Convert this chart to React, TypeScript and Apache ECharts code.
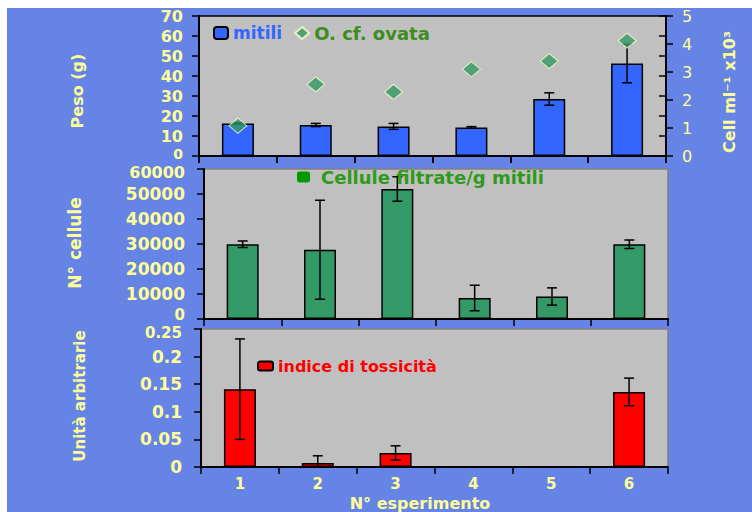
import React, { useEffect, useRef } from "react";
import * as echarts from "echarts";

const categories = ["1", "2", "3", "4", "5", "6"];
const pesoMitili = [16.3, 15.5, 14.8, 14.3, 28.5, 46.2];
const pesoErr = [0.4, 0.8, 1.5, 0.4, 3.1, 9.6];
const ovata = [1.08, 2.56, 2.29, 3.1, 3.39, 4.12];
const celluleFiltrate = [29900, 27700, 52000, 8400, 9000, 29900];
const celluleErr = [1300, 19800, 4900, 5100, 3450, 1700];
const tossicita = [0.141, 0.0073, 0.0254, 0, 0, 0.136];
const tossicitaErr = [0.091, 0.013, 0.013, 0, 0, 0.025];

const pesoAxis = { min: 0, max: 70, interval: 10 };
const cellAxis = { min: 0, max: 5, interval: 1 };
const celluleAxis = { min: 0, max: 60000, interval: 10000 };
const tossAxis = { min: 0, max: 0.25, interval: 0.05 };

const OX = 7;
const OY = 8;
const X = (v: number) => v - OX;
const Y = (v: number) => v - OY;

const YELLOW = "#FFFF99";
const FONT = "DejaVu Sans";

// labels at a panel's edge are nudged away from the neighbouring panel's labels
function edgeFmt(min: number, max: number, lowUp: boolean, highDown: boolean) {
  return (v: number) => {
    if (lowUp && v === min) return `{lo|${v}}`;
    if (highDown && v === max) return `{hi|${v}}`;
    return String(v);
  };
}

type Edge = { size: number; pad: number };

function ylabel(size: number, margin: number, bold: boolean, fmt: (v: number) => string, lo?: Edge, hi?: Edge) {
  const base = { color: YELLOW, fontFamily: FONT, fontWeight: bold ? "bold" : "normal", fontSize: size };
  const l = lo || { size, pad: 0 };
  const h = hi || { size, pad: 0 };
  return {
    ...base,
    margin,
    showMinLabel: true,
    showMaxLabel: true,
    hideOverlap: false,
    formatter: fmt,
    rich: {
      lo: { ...base, fontSize: l.size, padding: [0, 0, l.pad, 0] },
      hi: { ...base, fontSize: h.size, padding: [h.pad, 0, 0, 0] },
    },
  };
}

function errData(mean: number[], err: number[]) {
  return mean.map((m, i) => [i, m, err[i]]);
}

function errRender(params: any, api: any) {
  const x = api.value(0);
  const m = api.value(1);
  const e = api.value(2);
  if (!e) return null;
  const top = api.coord([x, m + e]);
  const bot = api.coord([x, m - e]);
  const w = 5;
  const style = { stroke: "#000", lineWidth: 1.5 };
  return {
    type: "group",
    children: [
      { type: "line", shape: { x1: top[0], y1: top[1], x2: bot[0], y2: bot[1] }, style },
      { type: "line", shape: { x1: top[0] - w, y1: top[1], x2: top[0] + w, y2: top[1] }, style },
      { type: "line", shape: { x1: bot[0] - w, y1: bot[1], x2: bot[0] + w, y2: bot[1] }, style },
    ],
  };
}

function grid(l: number, t: number, r: number, b: number, border: string) {
  return {
    left: X(l),
    top: Y(t),
    width: r - l,
    height: b - t,
    show: true,
    backgroundColor: "#C0C0C0",
    borderColor: border,
    borderWidth: 1.5,
    containLabel: false,
  };
}

const axisLine = { show: true, lineStyle: { color: "#000", width: 2 } };
const tick = { show: true, length: 7, lineStyle: { color: "#000", width: 1.5 } };

export default function App() {
  const ref = useRef<HTMLDivElement>(null);
  useEffect(() => {
    if (!ref.current) return;
    const chart = echarts.init(ref.current, null, { renderer: "svg" });
    const barStyle = (c: string) => ({ color: c, borderColor: "#000", borderWidth: 1.5 });
    chart.setOption({
      animation: false,
      backgroundColor: "#6684E6",
      grid: [
        grid(199, 16, 666, 156, "#000"),
        grid(204, 169, 668, 319, "#808080"),
        grid(201, 329, 668, 467, "#808080"),
      ],
      xAxis: [
        { type: "category", gridIndex: 0, data: categories, axisLine, axisTick: tick, axisLabel: { show: false } },
        { type: "category", gridIndex: 1, data: categories, axisLine, axisTick: tick, axisLabel: { show: false } },
        {
          type: "category", gridIndex: 2, data: categories, axisLine, axisTick: tick,
          axisLabel: { color: YELLOW, fontFamily: FONT, fontWeight: "bold", fontSize: 15, margin: 9 },
        },
        {
          type: "category", gridIndex: 0, data: categories, axisLine: { show: false },
          axisTick: { ...tick, inside: true }, axisLabel: { show: false },
        },
      ],
      yAxis: [
        {
          type: "value", gridIndex: 0, ...pesoAxis, axisLine, axisTick: tick, splitLine: { show: false },
          axisLabel: ylabel(16, 16, true, edgeFmt(pesoAxis.min, pesoAxis.max, true, false), { size: 14, pad: 4 }),
        },
        {
          type: "value", gridIndex: 0, position: "right", ...cellAxis, axisLine, axisTick: tick, splitLine: { show: false },
          axisLabel: ylabel(16, 16, false, (v: number) => String(v)),
        },
        {
          type: "value", gridIndex: 1, ...celluleAxis, axisLine, axisTick: tick, splitLine: { show: false },
          axisLabel: ylabel(17, 19, true, edgeFmt(celluleAxis.min, celluleAxis.max, true, true), { size: 15, pad: 8 }, { size: 16, pad: 6 }),
        },
        {
          type: "value", gridIndex: 2, ...tossAxis, axisLine, axisTick: tick, splitLine: { show: false },
          axisLabel: ylabel(17, 19, true, edgeFmt(tossAxis.min, tossAxis.max, false, true), undefined, { size: 15, pad: 8 }),
        },
        {
          type: "value", gridIndex: 0, ...pesoAxis, axisLine: { show: false },
          axisTick: { ...tick, inside: true }, axisLabel: { show: false }, splitLine: { show: false },
        },
      ],
      legend: [
        {
          left: X(213), top: Y(24), padding: 0, itemWidth: 14, itemHeight: 12, itemGap: 12,
          textStyle: { fontFamily: FONT, fontWeight: "bold", fontSize: 17 },
          data: [
            { name: "mitili", textStyle: { color: "#3366FF" } },
            { name: "O. cf. ovata", textStyle: { color: "#3C8C1E", fontSize: 18 } },
          ],
        },
        {
          left: X(297), top: Y(168), padding: 0, itemWidth: 13, itemHeight: 11,
          textStyle: { fontFamily: FONT, fontWeight: "bold", fontSize: 18, color: "#2E9A1A", padding: [0, 0, 0, 6] },
          data: [{ name: "Cellule filtrate/g mitili", itemStyle: { color: "#009900", borderWidth: 0 } }],
        },
        {
          left: X(257), top: Y(358), padding: 0, itemWidth: 15, itemHeight: 9,
          textStyle: { fontFamily: FONT, fontWeight: "bold", fontSize: 16, color: "#FF0000" },
          data: [{ name: "indice di tossicità" }],
        },
      ],
      series: [
        { name: "mitili", type: "bar", xAxisIndex: 0, yAxisIndex: 0, barWidth: 32, data: pesoMitili, itemStyle: barStyle("#3366FF") },
        { name: "errPeso", type: "custom", xAxisIndex: 0, yAxisIndex: 0, clip: true, data: errData(pesoMitili, pesoErr), renderItem: errRender, z: 3 },
        {
          name: "O. cf. ovata", type: "scatter", xAxisIndex: 0, yAxisIndex: 1, symbol: "diamond", symbolSize: [18, 15],
          data: ovata, itemStyle: { color: "#339966", borderColor: "#FFFFCC", borderWidth: 1 }, z: 4,
        },
        { name: "Cellule filtrate/g mitili", type: "bar", xAxisIndex: 1, yAxisIndex: 2, barWidth: 32, data: celluleFiltrate, itemStyle: barStyle("#339966") },
        { name: "errCellule", type: "custom", xAxisIndex: 1, yAxisIndex: 2, clip: true, data: errData(celluleFiltrate, celluleErr), renderItem: errRender, z: 3 },
        { name: "indice di tossicità", type: "bar", xAxisIndex: 2, yAxisIndex: 3, barWidth: 32, data: tossicita, itemStyle: barStyle("#FF0000") },
        { name: "errToss", type: "custom", xAxisIndex: 2, yAxisIndex: 3, clip: true, data: errData(tossicita, tossicitaErr), renderItem: errRender, z: 3 },
      ],
      graphic: [
        {
          type: "text", x: X(77), y: Y(91), rotation: Math.PI / 2,
          style: { text: "Peso (g)", fill: YELLOW, font: `bold 16px ${FONT}`, textAlign: "center", textVerticalAlign: "middle" },
        },
        {
          type: "text", x: X(75), y: Y(243), rotation: Math.PI / 2,
          style: { text: "N° cellule", fill: YELLOW, font: `bold 17px ${FONT}`, textAlign: "center", textVerticalAlign: "middle" },
        },
        {
          type: "text", x: X(80), y: Y(396), rotation: Math.PI / 2,
          style: { text: "Unità arbitrarie", fill: YELLOW, font: `bold 15px ${FONT}`, textAlign: "center", textVerticalAlign: "middle" },
        },
        {
          type: "text", x: X(729), y: Y(92), rotation: Math.PI / 2,
          style: { text: "Cell ml⁻¹ x10³", fill: YELLOW, font: `bold 16px ${FONT}`, textAlign: "center", textVerticalAlign: "middle" },
        },
        {
          type: "text", x: X(420), y: Y(503),
          style: { text: "N° esperimento", fill: YELLOW, font: `bold 16px ${FONT}`, textAlign: "center", textVerticalAlign: "middle" },
        },
      ],
    });
    return () => chart.dispose();
  }, []);
  return (
    <div style={{ position: "fixed", left: 0, top: 0, width: 752, height: 512, background: "#fff", overflow: "hidden" }}>
      <div ref={ref} style={{ position: "absolute", left: OX, top: OY, width: 752 - OX, height: 512 - OY }} />
    </div>
  );
}
